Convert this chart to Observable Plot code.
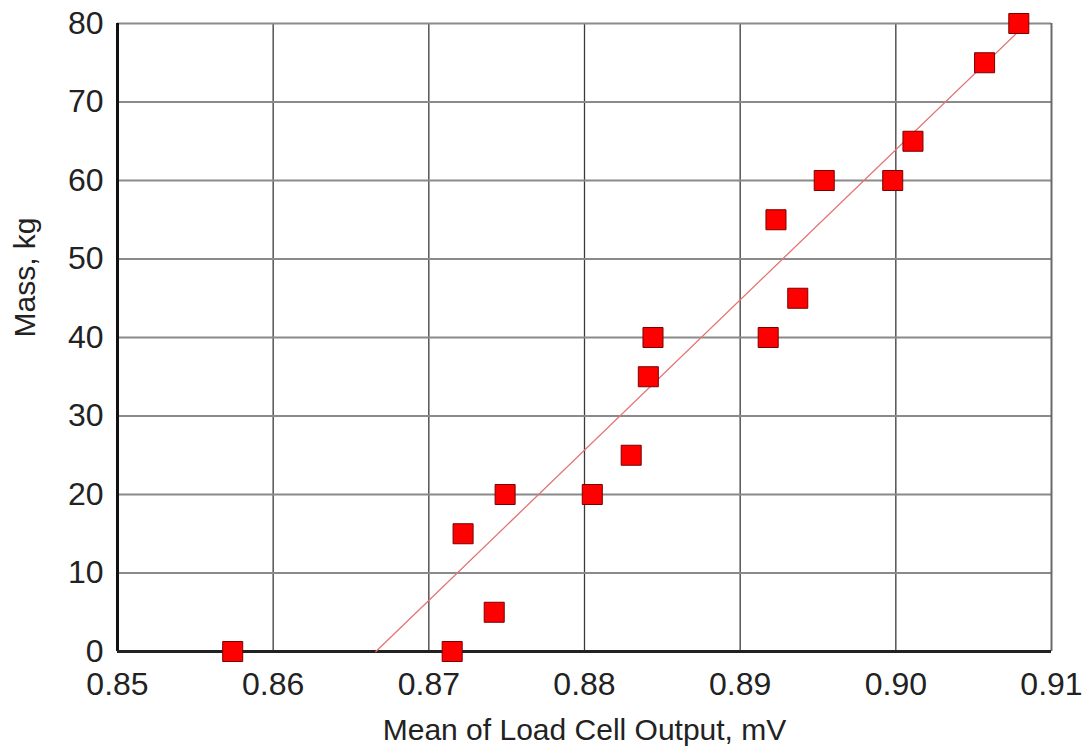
<!DOCTYPE html>
<html>
<head>
<meta charset="utf-8">
<script src="https://cdn.jsdelivr.net/npm/d3@7"></script>
<script src="https://cdn.jsdelivr.net/npm/@observablehq/plot@0.6"></script>
<style>
  html, body { margin: 0; padding: 0; background: #fff; }
  svg { display: block; }
</style>
</head>
<body>
<div id="chart"></div>
<script>
// Data
const loadCellOutput = [0.8574, 0.8715, 0.8722, 0.8742, 0.8749, 0.8805, 0.8830, 0.8841, 0.8844, 0.8918, 0.8923, 0.8937, 0.8954, 0.8998, 0.9011, 0.9057, 0.9079];
const massKg         = [0,      0,      15,     5,      20,     20,     25,     35,     40,     40,     55,     45,     60,     60,     65,     75,     80];
const trendX = [0.8666, 0.9084];
const trendY = [0, 80];
const xTicks = [0.85, 0.86, 0.87, 0.88, 0.89, 0.90, 0.91];
const yTicks = [0, 10, 20, 30, 40, 50, 60, 70, 80];
const xLabel = "Mean of Load Cell Output, mV";
const yLabel = "Mass, kg";

const points = loadCellOutput.map((x, i) => ({x, y: massKg[i]}));
const trend = trendX.map((x, i) => ({x, y: trendY[i]}));

const chart = Plot.plot({
  width: 1090,
  height: 754,
  marginLeft: 117,
  marginRight: 39,
  marginTop: 23,
  marginBottom: 103,
  style: {fontFamily: "'Liberation Sans', Arial, sans-serif", color: "#222", background: "#fff"},
  x: {domain: [0.85, 0.91]},
  y: {domain: [0, 80]},
  marks: [
    Plot.ruleX(xTicks.slice(1, -1), {stroke: "#3a3a3a", strokeWidth: 1.3}),
    Plot.ruleY(yTicks.slice(1, -1), {stroke: "#8a8a8a", strokeWidth: 2}),
    Plot.ruleY([80], {stroke: "#8a8a8a", strokeWidth: 2}),
    Plot.ruleX([0.91], {stroke: "#6a6a6a", strokeWidth: 2}),
    Plot.ruleX([0.85], {stroke: "#111", strokeWidth: 3}),
    Plot.ruleY([0], {stroke: "#222", strokeWidth: 3}),
    Plot.line(trend, {x: "x", y: "y", stroke: "#e57373", strokeWidth: 1.3}),
    Plot.dot(points, {x: "x", y: "y", symbol: "square", r: 11.3, fill: "#ff0000", stroke: "#7a0000", strokeWidth: 1}),
    Plot.axisX(xTicks, {tickSize: 0, tickPadding: 21, fontSize: 32, tickFormat: d3.format(".2f"), label: null}),
    Plot.axisY(yTicks, {tickSize: 0, tickPadding: 14, fontSize: 32, label: null}),
    Plot.text([xLabel], {frameAnchor: "bottom", dy: 79, fontSize: 30, text: d => d, lineAnchor: "middle", fill: "#222"}),
    Plot.text([yLabel], {frameAnchor: "left", dx: -92, fontSize: 30, rotate: -90, text: d => d, lineAnchor: "middle", fill: "#222"})
  ]
});
document.getElementById("chart").appendChild(chart);
</script>
</body>
</html>
